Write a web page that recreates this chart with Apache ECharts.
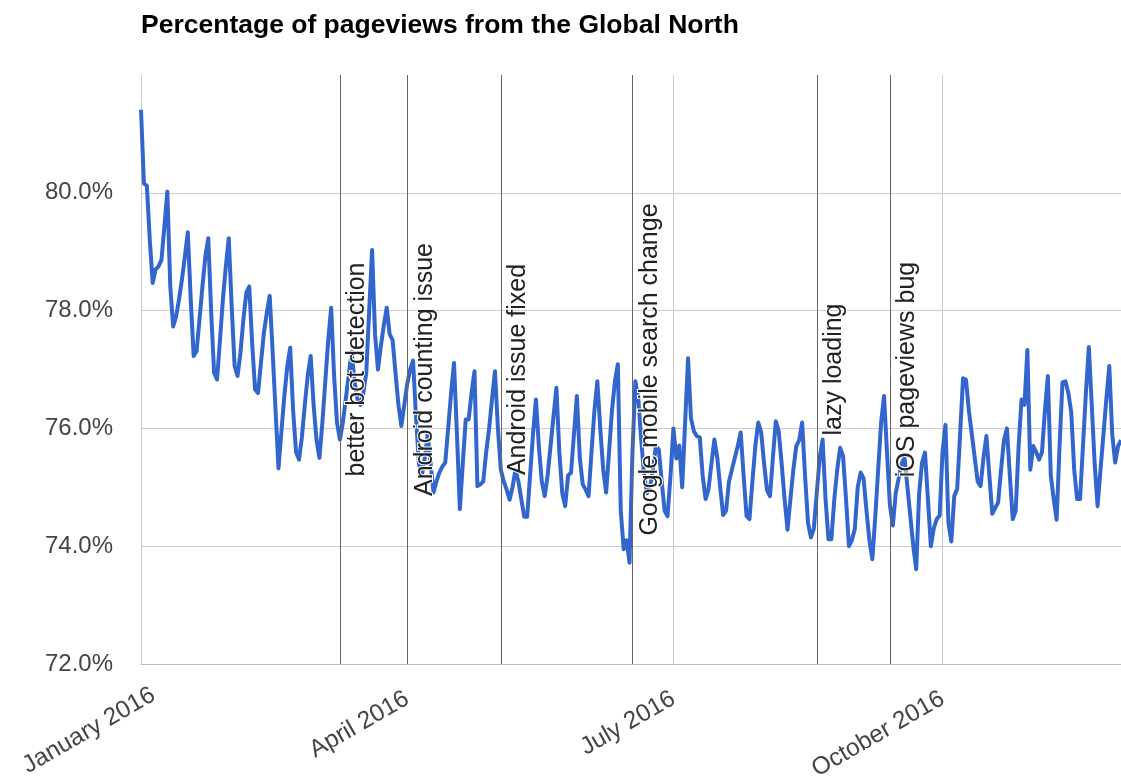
<!DOCTYPE html>
<html>
<head>
<meta charset="utf-8">
<script src="https://cdn.jsdelivr.net/npm/echarts@6/dist/echarts.min.js"></script>
<style>
html, body { margin: 0; padding: 0; background: #fff; }
#chart { width: 1121px; height: 776px; }
</style>
</head>
<body>
<div id="chart"></div>
<script>
// Daily share (%) of pageviews from the Global North, starting 2016-01-01
const startDate = '2016-01-01';
const values = [
  81.41, 80.16, 80.12, 79.2, 78.47, 78.7, 78.75,
  78.86, 79.43, 80.02, 78.41, 77.73, 77.9, 78.19,
  78.53, 78.92, 79.33, 78.19, 77.23, 77.31, 77.85,
  78.41, 78.92, 79.23, 77.96, 76.94, 76.83, 77.5,
  78.19, 78.75, 79.23, 78.07, 77.06, 76.89, 77.28,
  77.85, 78.3, 78.41, 77.45, 76.66, 76.6, 77.11,
  77.62, 77.96, 78.25, 77.3, 76.3, 75.32, 75.95,
  76.55, 77.05, 77.37, 76.3, 75.6, 75.47, 75.85,
  76.4, 76.9, 77.23, 76.4, 75.8, 75.5, 76.1,
  76.8, 77.5, 78.05, 76.9, 76.1, 75.81, 76.1,
  76.5, 76.9, 77.3, 76.8, 76.5, 76.4, 76.6,
  76.94, 78.0, 79.03, 77.6, 77.0, 77.4, 77.75,
  78.05, 77.6, 77.5, 76.94, 76.4, 76.04, 76.4,
  76.75, 77.0, 77.15, 76.2, 75.4, 75.2, 75.5,
  75.9, 75.4, 74.91, 75.1, 75.25, 75.35, 75.42,
  76.0, 76.6, 77.11, 75.9, 74.63, 75.4, 76.15,
  76.15, 76.6, 76.97, 75.02, 75.05, 75.1, 75.6,
  76.0, 76.5, 76.97, 76.0, 75.3, 75.1, 74.96,
  74.79, 75.0, 75.3, 75.1, 74.8, 74.5, 74.5,
  75.2, 75.9, 76.49, 75.7, 75.1, 74.85, 75.2,
  75.7, 76.2, 76.69, 75.6, 74.9, 74.68, 75.2,
  75.25, 75.9, 76.55, 75.5, 75.05, 74.96, 74.85,
  75.6, 76.3, 76.8, 76.0, 75.3, 74.91, 75.6,
  76.3, 76.8, 77.09, 74.6, 73.95, 74.1, 73.72,
  75.6, 76.8, 76.5, 75.8, 75.2, 74.9, 75.0,
  75.3, 75.7, 75.64, 75.1, 74.6, 74.51, 75.2,
  76.0, 75.49, 75.71, 75.0, 76.1, 77.19, 76.17,
  75.95, 75.87, 75.85, 75.2, 74.8, 74.97, 75.4,
  75.81, 75.5, 75.0, 74.53, 74.6, 75.1, 75.3,
  75.5, 75.7, 75.93, 75.2, 74.51, 74.46, 75.1,
  75.7, 76.1, 75.93, 75.4, 74.95, 74.85, 75.5,
  76.12, 75.95, 75.4, 74.8, 74.28, 74.8, 75.3,
  75.7, 75.8, 76.1, 75.2, 74.4, 74.15, 74.3,
  74.9, 75.5, 75.81, 74.8, 74.12, 74.12, 74.8,
  75.3, 75.67, 75.53, 74.8, 74.0, 74.1, 74.29,
  75.0, 75.25, 75.15, 74.6, 74.1, 73.78, 74.5,
  75.3, 76.1, 76.55, 75.6, 74.7, 74.35, 74.9,
  75.15, 75.4, 75.5, 75.0, 74.5, 74.0, 73.61,
  74.9, 75.42, 75.59, 74.8, 74.0, 74.3, 74.46,
  74.52, 75.6, 76.06, 74.4, 74.08, 74.85, 74.97,
  75.9, 76.85, 76.83, 76.3, 75.9, 75.5, 75.1,
  75.02, 75.5, 75.87, 75.2, 74.55, 74.65, 74.74,
  75.3, 75.8, 76.0, 75.2, 74.46, 74.6, 75.7,
  76.49, 76.4, 77.33, 75.3, 75.7, 75.6, 75.47,
  75.6, 76.3, 76.89, 75.2, 74.8, 74.45, 75.7,
  76.78, 76.8, 76.6, 76.27, 75.3, 74.8, 74.8,
  75.7, 76.6, 77.38, 76.4, 75.4, 74.68, 75.3,
  75.9, 76.5, 77.06, 75.9, 75.42, 75.7, 75.8
];
const tickLabels = {
  '2016-01-01': 'January 2016',
  '2016-04-01': 'April 2016',
  '2016-07-01': 'July 2016',
  '2016-10-01': 'October 2016'
};
const annotationDates = ['2016-03-09', '2016-04-01', '2016-05-03', '2016-06-17', '2016-08-19', '2016-09-13'];
const annotationTexts = ['better bot detection', 'Android counting issue', 'Android issue fixed',
  'Google mobile search change', 'lazy loading', 'iOS pageviews bug'];
const yTicks = [72, 74, 76, 78, 80];

// category labels: one per day
function pad(n) { return n < 10 ? '0' + n : '' + n; }
const days = [];
{
  const t0 = Date.UTC(2016, 0, 1);
  for (let i = 0; i < values.length; i++) {
    const d = new Date(t0 + i * 86400000);
    days.push(d.getUTCFullYear() + '-' + pad(d.getUTCMonth() + 1) + '-' + pad(d.getUTCDate()));
  }
}
const isQuarter = (idx, val) => tickLabels[days[idx]] !== undefined;

const FONT = "'Liberation Sans', Arial, Helvetica, sans-serif";
const XL = { fontFamily: FONT, fontSize: 24.5, color: '#444' };
const chart = echarts.init(document.getElementById('chart'), null, { renderer: 'canvas' });
chart.setOption({
  animation: false,
  backgroundColor: '#fff',
  title: {
    text: 'Percentage of pageviews from the Global North',
    left: 136, top: 7,
    textStyle: { fontFamily: FONT, fontSize: 26.5, fontWeight: 'bold', color: '#000' }
  },
  grid: { left: 141, right: 0, top: 75, bottom: 112, containLabel: false, outerBoundsMode: 'none' },
  xAxis: {
    type: 'category',
    data: days,
    boundaryGap: false,
    axisLine: { show: true, lineStyle: { color: '#bbb', width: 1 } },
    axisTick: { show: false },
    axisLabel: {
      interval: isQuarter,
      rotate: 30,
      margin: 33,
      fontFamily: FONT, fontSize: 24.5, color: '#444',
      formatter: v => v === '2016-01-01' ? '{j|' + tickLabels[v] + '}' : (tickLabels[v] ? '{q|' + tickLabels[v] + '}' : ''),
      rich: {
        q: Object.assign({}, XL),
        j: Object.assign({ width: 136, align: 'left', padding: [6, 0, 0, 0] }, XL)
      }
    },
    splitLine: { show: true, interval: isQuarter, lineStyle: { color: '#ccc', width: 1 } }
  },
  yAxis: {
    type: 'value',
    min: 72, max: 82, interval: 2,
    axisLine: { show: false },
    axisTick: { show: false },
    axisLabel: {
      margin: 28,
      fontFamily: FONT, fontSize: 24, color: '#444',
      formatter: v => yTicks.indexOf(v) >= 0 ? v.toFixed(1) + '%' : ''
    },
    splitLine: { show: true, lineStyle: { color: ['#ccc', '#ccc', '#ccc', '#ccc', '#ccc', 'rgba(0,0,0,0)'], width: 1 } }
  },
  series: [{
    type: 'line',
    data: values,
    showSymbol: false,
    symbol: 'none',
    lineStyle: { color: '#3366cc', width: 4, join: 'round' },
    markLine: {
      silent: true,
      symbol: ['none', 'none'],
      lineStyle: { color: '#666', width: 1, type: 'solid' },
      label: {
        show: true,
        position: 'insideMiddleBottom',
        distance: 5,
        fontFamily: FONT, fontSize: 25, color: '#222',
        textBorderColor: '#fff', textBorderWidth: 2
      },
      data: annotationDates.map((d, i) => ({ xAxis: d, label: { formatter: annotationTexts[i] } }))
    }
  }]
});
</script>
</body>
</html>
